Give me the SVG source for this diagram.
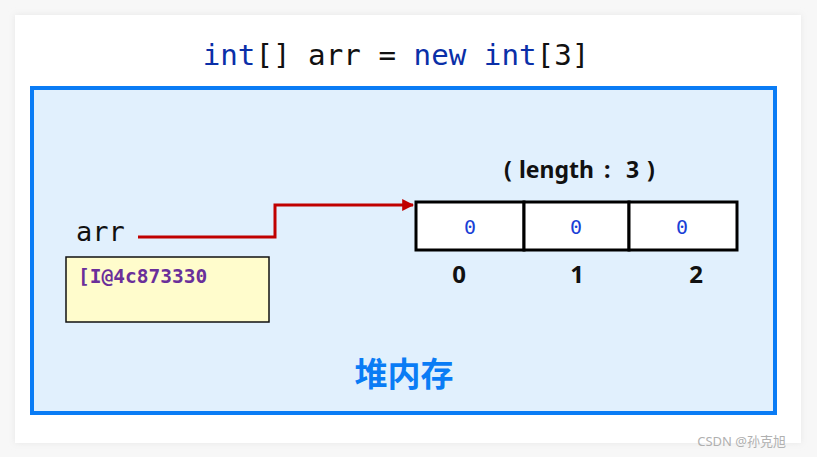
<svg xmlns="http://www.w3.org/2000/svg" width="817" height="457" viewBox="0 0 817 457">
<defs>
<style>
.mono{font-family:"DejaVu Sans Mono","Liberation Mono",monospace}
.kw{fill:#0a2fa8}
.cell{fill:#ffffff;stroke:#000;stroke-width:3}
.zero{font-family:"DejaVu Sans Mono",monospace;font-size:20px;fill:#1a3fd6;text-anchor:middle}
.idx{font-family:"Noto Sans",sans-serif;font-size:24px;font-weight:bold;fill:#111;text-anchor:middle}
</style>
<marker id="ah" viewBox="0 0 10 10" refX="9" refY="5" markerWidth="4" markerHeight="4" orient="auto">
<path d="M0,0 L10,5 L0,10 z" fill="#c00000"/>
</marker>
<filter id="sh" x="-5%" y="-5%" width="110%" height="110%">
<feGaussianBlur stdDeviation="3"/>
</filter>
</defs>
<rect x="0" y="0" width="817" height="457" fill="#f7f7f7"/>
<rect x="15" y="15" width="786" height="428" fill="#e6e6e6" filter="url(#sh)"/>
<rect x="15" y="15" width="786" height="428" fill="#ffffff"/>
<text class="mono" x="396" y="65" font-size="29.2" text-anchor="middle" fill="#111"><tspan class="kw">int</tspan>[] arr = <tspan class="kw">new</tspan> <tspan class="kw">int</tspan>[3]</text>
<g id="heap">
<rect x="32" y="88" width="743" height="325" fill="#e1f0fd" stroke="#0a7cf5" stroke-width="4"/>
<text x="404" y="386" font-family="Noto Sans CJK SC,sans-serif" font-size="33" font-weight="bold" fill="#0a7cf5" text-anchor="middle">堆内存</text>
</g>
<g id="arr">
<text class="mono" x="76" y="241" font-size="27" fill="#111">arr</text>
<rect x="66" y="257" width="203" height="65" fill="#fffccc" stroke="#111" stroke-width="1.5"/>
<text class="mono" x="78" y="283" font-size="19.5" font-weight="bold" fill="#6a2f9a">[I@4c873330</text>
</g>
<g id="array">
<text y="178" font-family="Noto Sans,sans-serif" font-size="23" font-weight="bold" fill="#111"><tspan x="504">(</tspan><tspan x="519">length</tspan><tspan x="604">:</tspan><tspan x="626">3</tspan><tspan x="647">)</tspan></text>
<rect class="cell" x="416" y="202" width="108" height="48"/>
<rect class="cell" x="524" y="202" width="105" height="48"/>
<rect class="cell" x="629" y="202" width="108" height="48"/>
<text class="zero" x="470" y="234">0</text>
<text class="zero" x="576" y="234">0</text>
<text class="zero" x="682" y="234">0</text>
<text class="idx" x="459" y="283">0</text>
<text class="idx" x="577" y="283">1</text>
<text class="idx" x="696" y="283">2</text>
</g>
<g id="connectors">
<polyline points="138,237 275,237 275,205 413,205" fill="none" stroke="#c00000" stroke-width="3" marker-end="url(#ah)"/>
</g>
<text x="786" y="446" font-family="Noto Sans,Noto Sans CJK SC,sans-serif" font-size="13" fill="#b0b0b0" text-anchor="end">CSDN @孙克旭</text>
</svg>
